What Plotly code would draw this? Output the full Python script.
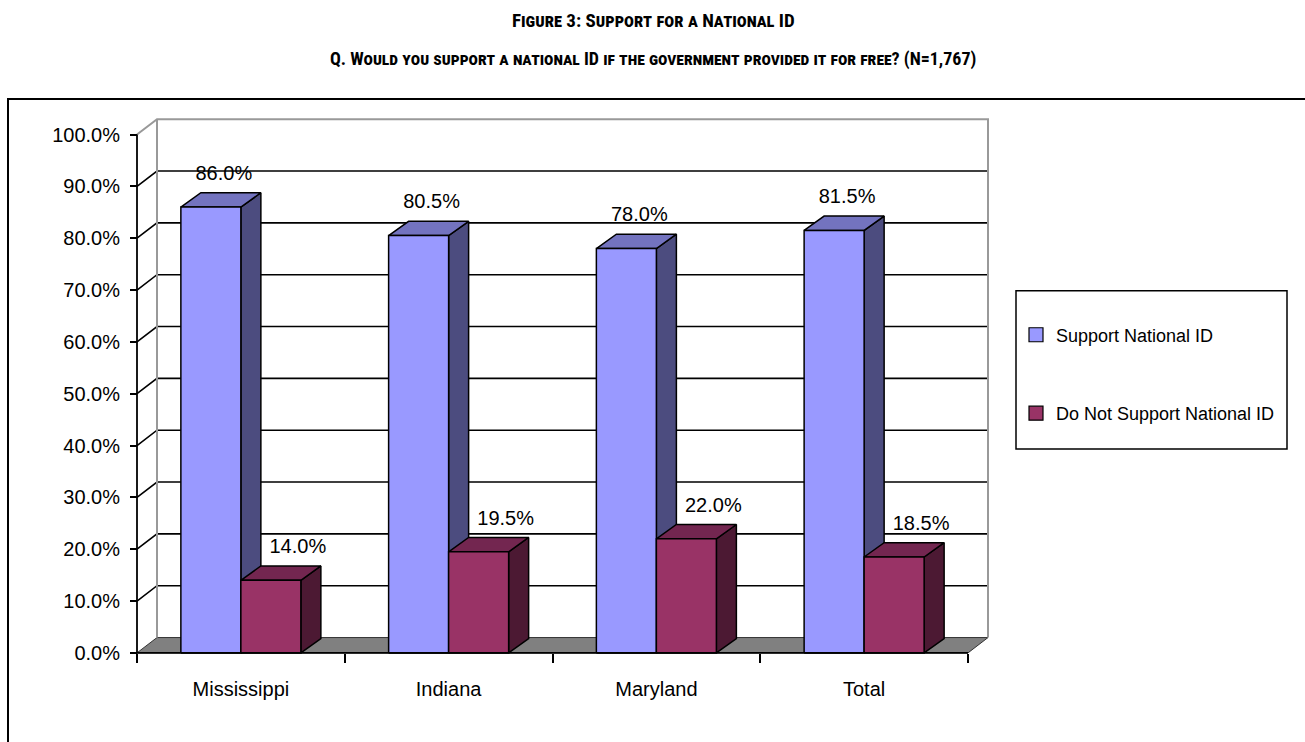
import plotly.graph_objects as go

# ---------------- data ----------------
categories = ["Mississippi", "Indiana", "Maryland", "Total"]
support = [86.0, 80.5, 78.0, 81.5]
not_support = [14.0, 19.5, 22.0, 18.5]
series_names = ["Support National ID", "Do Not Support National ID"]
y_ticks = [0, 10, 20, 30, 40, 50, 60, 70, 80, 90, 100]
y_tick_labels = ["%.1f%%" % v for v in y_ticks]
title_text = "Figure 3: Support for a National ID"
subtitle_text = "Q. Would you support a national ID if the government provided it for free? (N=1,767)"

# ---------------- geometry / style ----------------
W, H = 1305, 742
AXIS_X_PX = 137          # pixel x of the front value axis
AXIS_Y_PX = 660          # pixel y of the 0 line
CAT_PX = 207.75          # pixels per category
PCT_PX = 5.24            # pixels per percent
BAR_PX = 60              # width of a bar front face
WALL_DX, WALL_DY = 20, 15.5
BAR_DX, BAR_DY = 20, 14.5
LABEL_GAP = 18
LABEL_SHIFT = [13, 27]

ux = lambda px: px / CAT_PX
uy = lambda px: px / PCT_PX

dom_left, dom_right, dom_top, dom_bottom = 134, 996, 114, 663
x_range = [-0.5 - ux(AXIS_X_PX - dom_left), -0.5 + ux(dom_right - AXIS_X_PX)]
y_range = [-uy(dom_bottom - AXIS_Y_PX), uy(AXIS_Y_PX - dom_top)]

colors = {
    "front": ["#9999FF", "#993366"],
    "top": ["#7373BF", "#732650"],
    "side": ["#4C4C7F", "#4C1933"],
}

FONT = "Liberation Sans, Arial, sans-serif"
TITLE_FONT = "Roboto Condensed, Liberation Sans Narrow, Arial Narrow, Liberation Sans"
n = len(categories)
x_lo, x_hi = -0.5, n - 0.5
wdx, wdy = ux(WALL_DX), uy(WALL_DY)
bdx, bdy = ux(BAR_DX), uy(BAR_DY)
bw = ux(BAR_PX)

fig = go.Figure()


def poly_trace(polys, fill, line_color="black", width=1.5):
    xs, ys = [], []
    for p in polys:
        for (a, b) in p:
            xs.append(a)
            ys.append(b)
        xs.append(None)
        ys.append(None)
    return go.Scatter(x=xs, y=ys, mode="lines", fill="toself" if fill else "none",
                      fillcolor=fill, line=dict(color=line_color, width=width),
                      hoverinfo="skip", showlegend=False)


# floor
floor = [[(x_lo, 0), (x_hi, 0), (x_hi + wdx, wdy), (x_lo + wdx, wdy), (x_lo, 0)]]
fig.add_trace(poly_trace(floor, "#808080", line_color="#333333", width=1))

# back wall gridlines (black) + side-wall diagonals
grid = []
for v in y_ticks[1:-1]:
    grid.append([(x_lo, v), (x_lo + wdx, v + wdy), (x_hi + wdx, v + wdy)])
fig.add_trace(poly_trace(grid, None, line_color="black", width=1.6))

# wall edges (gray)
top = y_ticks[-1]
edges = [
    [(x_lo, top), (x_lo + wdx, top + wdy), (x_hi + wdx, top + wdy), (x_hi + wdx, wdy)],
    [(x_lo + wdx, wdy), (x_lo + wdx, top + wdy)],
]
fig.add_trace(poly_trace(edges, None, line_color="#999999", width=2))

# bars
for s, vals in enumerate([support, not_support]):
    fronts, sides, tops = [], [], []
    for i, v in enumerate(vals):
        l = i - bw if s == 0 else i
        r = l + bw
        fronts.append([(l, 0), (r, 0), (r, v), (l, v), (l, 0)])
        sides.append([(r, 0), (r + bdx, bdy), (r + bdx, v + bdy), (r, v), (r, 0)])
        tops.append([(l, v), (r, v), (r + bdx, v + bdy), (l + bdx, v + bdy), (l, v)])
    fig.add_trace(poly_trace(sides, colors["side"][s]))
    fig.add_trace(poly_trace(tops, colors["top"][s]))
    fig.add_trace(poly_trace(fronts, colors["front"][s]))

# front axes lines
fig.add_trace(poly_trace([[(x_lo, 0), (x_lo, top)], [(x_lo, 0), (x_hi, 0)]], None,
                         line_color="black", width=1.8))

# data labels
for s, vals in enumerate([support, not_support]):
    lx = [(i - bw / 2 if s == 0 else i + bw / 2) + ux(LABEL_SHIFT[s]) for i in range(n)]
    ly = [v + bdy + uy(LABEL_GAP) for v in vals]
    fig.add_trace(go.Scatter(x=lx, y=ly, mode="text",
                             text=["%.1f%%" % v for v in vals],
                             textposition="middle center",
                             textfont=dict(family=FONT, size=20, color="black"),
                             hoverinfo="skip", showlegend=False, cliponaxis=False))

# legend entries
for s, name in enumerate(series_names):
    fig.add_trace(go.Scatter(x=[None], y=[None], mode="markers", name=name,
                             legendgroup=name,
                             marker=dict(symbol="square", size=14, color=colors["front"][s],
                                         line=dict(color="black", width=1.2))))

fig.update_layout(
    width=W, height=H,
    margin=dict(l=0, r=0, t=0, b=0),
    paper_bgcolor="white", plot_bgcolor="rgba(0,0,0,0)",
    font=dict(family=FONT, color="black"),
    showlegend=True,
    legend=dict(x=1016 / W, y=1 - 320 / H, xanchor="left", yanchor="top",
                font=dict(family=FONT, size=18, color="black"),
                tracegroupgap=52, bgcolor="rgba(0,0,0,0)", borderwidth=0,
                itemwidth=30),
    xaxis=dict(domain=[dom_left / W, dom_right / W], range=x_range,
               anchor="free", position=(H - AXIS_Y_PX) / H,
               tickvals=list(range(n)), ticktext=categories, ticks="",
               tickfont=dict(family=FONT, size=20, color="black"),
               showgrid=False, zeroline=False, showline=False,
               ticklabelstandoff=22,
               minor=dict(tickvals=[i - 0.5 for i in range(n + 1)], ticks="outside",
                          ticklen=9, tickwidth=1.6, tickcolor="black", showgrid=False)),
    yaxis=dict(domain=[(H - dom_bottom) / H, (H - dom_top) / H], range=y_range,
               anchor="free", position=AXIS_X_PX / W,
               tickvals=y_ticks, ticktext=y_tick_labels,
               ticks="outside", ticklen=7, tickwidth=1.6, tickcolor="black",
               tickfont=dict(family=FONT, size=20, color="black"),
               showgrid=False, zeroline=False, showline=False,
               ticklabelstandoff=6),
    shapes=[
        dict(type="rect", xref="paper", yref="paper", x0=8 / W, x1=1.02,
             y0=-0.02, y1=1 - 100 / H, line=dict(color="black", width=2),
             fillcolor="rgba(0,0,0,0)", layer="below"),
        dict(type="rect", xref="paper", yref="paper", x0=1016 / W, x1=1287 / W,
             y0=1 - 454 / H, y1=1 - 294 / H, line=dict(color="black", width=1.5),
             fillcolor="rgba(0,0,0,0)"),
    ],
    annotations=[
        dict(text=title_text, xref="paper", yref="paper", x=653 / W, y=1 - 21 / H,
             xanchor="center", yanchor="middle", showarrow=False,
             font=dict(family=TITLE_FONT, size=19, weight="bold", variant="small-caps",
                       color="black")),
        dict(text=subtitle_text, xref="paper", yref="paper", x=653 / W, y=1 - 60 / H,
             xanchor="center", yanchor="middle", showarrow=False,
             font=dict(family=TITLE_FONT, size=18, weight="bold", variant="small-caps",
                       color="black")),
    ],
)

fig.write_html("out.html")
